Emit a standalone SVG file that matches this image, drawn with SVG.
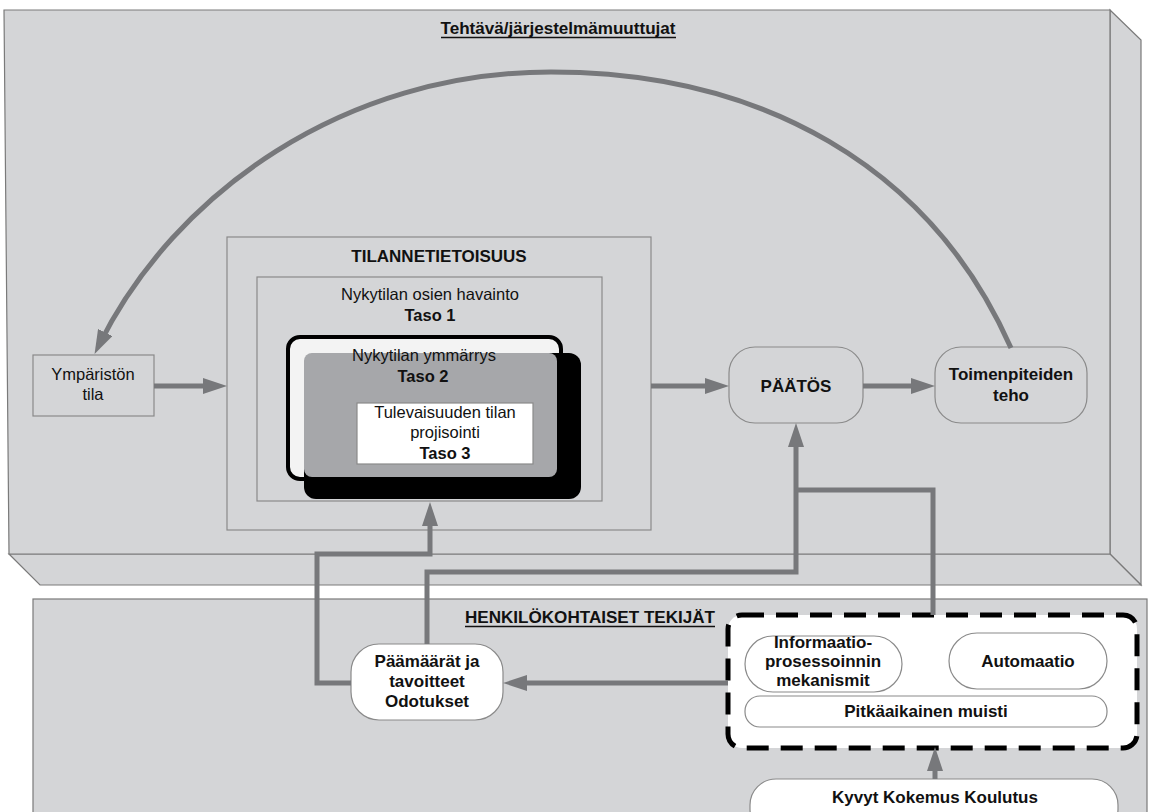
<svg xmlns="http://www.w3.org/2000/svg" width="1153" height="812" viewBox="0 0 1153 812">
  <style>
    .panel { fill: #d4d5d7; stroke: #7a7a7a; stroke-width: 1.2; }
    .box { stroke: #8a8a8a; stroke-width: 1.2; }
    .t { font-family: "Liberation Sans", Arial, sans-serif; font-size: 16.5px; fill: #111; text-anchor: middle; }
    .b { font-weight: bold; }
    .lb { font-family: "Liberation Sans", Arial, sans-serif; font-size: 17px; font-weight: bold; fill: #111; text-anchor: middle; }
    .conn { fill: none; stroke: #77787b; stroke-width: 5; }
    .ul { stroke: #111; stroke-width: 1.3; }
  </style>
  <defs>
    <marker id="ah" viewBox="0 0 24 16" refX="14" refY="8" markerWidth="24" markerHeight="16" markerUnits="userSpaceOnUse" orient="auto">
      <path d="M0,0 L24,8 L0,16 z" fill="#77787b"/>
    </marker>
  </defs>
  <rect width="1153" height="812" fill="#ffffff"/>

  <!-- task / system panel drawn as a slab -->
  <g id="task-panel">
    <polygon class="panel" points="1110,10 1141,40 1141,585 1110,554"/>
    <polygon class="panel" points="9,554 1110,554 1141,585 40,585"/>
    <polygon class="panel" points="4,10 1110,10 1110,554 9,554"/>
    <text x="558" y="34" class="t b" font-size="19" textLength="235" lengthAdjust="spacingAndGlyphs">Tehtävä/järjestelmämuuttujat</text>
    <line class="ul" x1="441" y1="37.5" x2="676" y2="37.5"/>
  </g>

  <!-- individual factors panel -->
  <g id="personal-panel">
    <rect class="panel" x="33" y="599" width="1114" height="230"/>
    <text x="590" y="623" class="lb" font-size="16" textLength="250" lengthAdjust="spacingAndGlyphs">HENKILÖKOHTAISET TEKIJÄT</text>
    <line class="ul" x1="465" y1="626.5" x2="715" y2="626.5"/>
  </g>

  <g id="environment">
    <rect class="box" x="33" y="355" width="121" height="61" fill="#d4d5d7"/>
    <text x="93" y="380" class="t">Ympäristön</text>
    <text x="93" y="400" class="t">tila</text>
  </g>

  <g id="situation-awareness">
    <rect class="box" x="227" y="237" width="424" height="293" fill="none"/>
    <text x="439" y="262" class="lb">TILANNETIETOISUUS</text>
    <rect class="box" x="257" y="277" width="345" height="224" fill="none"/>
    <text x="430" y="300" class="t">Nykytilan osien havainto</text>
    <text x="430" y="321" class="t b">Taso 1</text>
    <rect x="288" y="337" width="273" height="142" rx="12" fill="#f3f3f3" stroke="#000" stroke-width="4"/>
    <rect x="304" y="353" width="277" height="146" rx="12" fill="#000"/>
    <rect x="304" y="353" width="253" height="124" rx="8" fill="#a6a7aa"/>
    <text x="424" y="361" class="t">Nykytilan ymmärrys</text>
    <text x="423" y="382" class="t b">Taso 2</text>
    <rect class="box" x="357" y="403" width="176" height="61" fill="#ffffff"/>
    <text x="445" y="418" class="t">Tulevaisuuden tilan</text>
    <text x="445" y="438" class="t">projisointi</text>
    <text x="445" y="459" class="t b">Taso 3</text>
  </g>

  <g id="decision">
    <rect class="box" x="729" y="347" width="134" height="76" rx="26" fill="#d4d5d7"/>
    <text x="796" y="392" class="lb">PÄÄTÖS</text>
  </g>

  <g id="performance">
    <rect class="box" x="935" y="347" width="152" height="76" rx="26" fill="#d4d5d7"/>
    <text x="1011" y="380" class="lb">Toimenpiteiden</text>
    <text x="1011" y="401" class="lb">teho</text>
  </g>

  <g id="goals">
    <rect class="box" x="351" y="644" width="152" height="76" rx="28" fill="#ffffff"/>
    <text x="427" y="667" class="lb">Päämäärät ja</text>
    <text x="427" y="687" class="lb">tavoitteet</text>
    <text x="427" y="707" class="lb">Odotukset</text>
  </g>

  <g id="mechanisms">
    <rect x="728" y="615" width="409" height="133" rx="14" fill="#ffffff" stroke="#000" stroke-width="5" stroke-dasharray="22 12"/>
    <rect class="box" x="745" y="636" width="157" height="56" rx="28" fill="#ffffff"/>
    <text x="823" y="648" class="lb">Informaatio-</text>
    <text x="823" y="667" class="lb">prosessoinnin</text>
    <text x="823" y="686" class="lb">mekanismit</text>
    <rect class="box" x="949" y="633" width="158" height="56" rx="28" fill="#ffffff"/>
    <text x="1028" y="667" class="lb">Automaatio</text>
    <rect class="box" x="745" y="696" width="362" height="31" rx="15" fill="#ffffff"/>
    <text x="926" y="717" class="lb">Pitkäaikainen muisti</text>
  </g>

  <g id="abilities">
    <rect class="box" x="750" y="779" width="368" height="56" rx="26" fill="#ffffff"/>
    <text x="935" y="803" class="lb">Kyvyt Kokemus Koulutus</text>
  </g>

  <g id="connectors">
    <path class="conn" d="M1011,348 C930,165 760,72 551,72 C345,72 175,192 99,345" marker-end="url(#ah)"/>
    <path class="conn" d="M154,386 H217" marker-end="url(#ah)"/>
    <path class="conn" d="M651,386 H719" marker-end="url(#ah)"/>
    <path class="conn" d="M863,386 H925" marker-end="url(#ah)"/>
    <path class="conn" d="M351,683 H317 V554 H430 V512" marker-end="url(#ah)"/>
    <path class="conn" d="M427,644 V572 H796 V433" marker-end="url(#ah)"/>
    <path class="conn" d="M933,615 V490 H796"/>
    <path class="conn" d="M728,683 H513" marker-end="url(#ah)"/>
    <path class="conn" d="M935,779 V757" marker-end="url(#ah)"/>
  </g>
</svg>
